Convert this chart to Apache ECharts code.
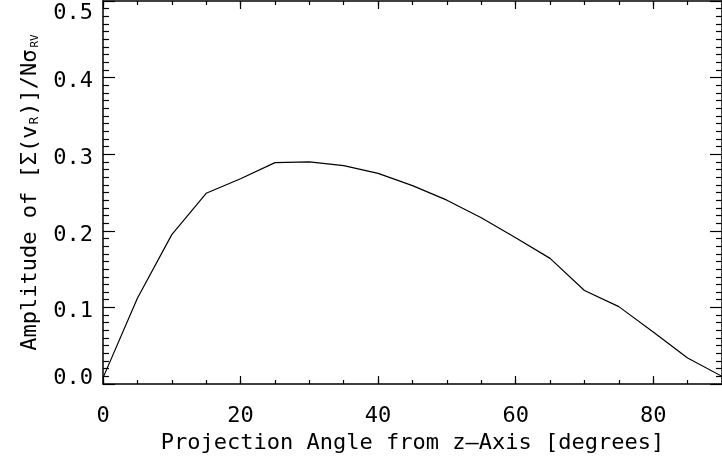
<!DOCTYPE html>
<html>
<head>
<meta charset="utf-8">
<script src="https://cdn.jsdelivr.net/npm/echarts@6/dist/echarts.min.js"></script>
<style>
  html, body { margin: 0; padding: 0; background: #fff; }
  #chart { width: 722px; height: 465px; }
</style>
</head>
<body>
<div id="chart"></div>
<script>
// Projection angle (degrees) and amplitude of the velocity residual
const angles = [0, 5, 10, 15, 20, 25, 30, 35, 40, 45, 50, 55, 60, 65, 70, 75, 80, 85, 90];
const amplitude = [0.008, 0.112, 0.195, 0.249, 0.268, 0.289, 0.290, 0.285, 0.275, 0.259,
                   0.240, 0.217, 0.191, 0.164, 0.122, 0.101, 0.068, 0.034, 0.010];
const xRange = [0, 90];
const yRange = [0, 0.5];
const xMajorStep = 20;
const xMinorStep = 5;
const yMajorStep = 0.1;

const FONT = '"DejaVu Sans Mono", "Liberation Mono", monospace';
const INK = '#000';

const chart = echarts.init(document.getElementById('chart'), null, { renderer: 'canvas' });

const lineStyle = { color: INK, width: 1.5 };

// major-tick axis (with optional labels) and a companion minor-tick axis
function xAxes(position, withLabels) {
  return [
    {
      type: 'value', position, min: xRange[0], max: xRange[1], interval: xMajorStep,
      axisLine: { show: true, onZero: false, lineStyle },
      axisTick: { show: true, inside: true, length: 8, lineStyle: { color: INK, width: 1.2 } },
      splitLine: { show: false },
      axisLabel: withLabels ? {
        show: true, margin: 21, color: INK, fontFamily: FONT, fontSize: 22,
        showMaxLabel: false
      } : { show: false },
      name: withLabels ? 'Projection Angle from z\u2013Axis [degrees]' : '',
      nameLocation: 'middle', nameGap: 48,
      nameTextStyle: { color: INK, fontFamily: FONT, fontSize: 22 }
    },
    {
      type: 'value', position, min: xRange[0], max: xRange[1], interval: xMinorStep,
      axisLine: { show: false, onZero: false },
      axisTick: { show: true, inside: true, length: 4, lineStyle: { color: INK, width: 1.2 } },
      splitLine: { show: false },
      axisLabel: { show: false }
    }
  ];
}

function yLabel(v) {
  const s = v.toFixed(1);
  if (Math.abs(v - yRange[1]) < 1e-9) return '{t|' + s + '}';
  if (Math.abs(v - yRange[0]) < 1e-9) return '{b|' + s + '}';
  return '{n|' + s + '}';
}

function yAxis(position, withLabels) {
  return {
    type: 'value', position, min: yRange[0], max: yRange[1], interval: yMajorStep,
    axisLine: { show: true, onZero: false, lineStyle },
    axisTick: { show: true, inside: true, length: 12, lineStyle: { color: INK, width: 1.2 } },
    minorTick: { show: true, splitNumber: 10, length: 6, lineStyle: { color: INK, width: 1.2 } },
    splitLine: { show: false },
    minorSplitLine: { show: false },
    axisLabel: withLabels ? {
      show: true, margin: 10, color: INK, fontFamily: FONT, fontSize: 22,
      formatter: yLabel,
      rich: {
        n: { fontFamily: FONT, fontSize: 22, color: INK, padding: [8, 0, 0, 0] },
        t: { fontFamily: FONT, fontSize: 22, color: INK, padding: [24, 0, 0, 0] },
        b: { fontFamily: FONT, fontSize: 22, color: INK, padding: [0, 0, 12, 0] }
      }
    } : { show: false },
    name: withLabels
      ? '{m|Amplitude of [\u03A3(v}{s|R}{m|)]/N\u03C3}{s2|RV}'
      : '',
    nameLocation: 'middle', nameRotate: 90, nameGap: 62,
    nameTextStyle: {
      color: INK, fontFamily: FONT, fontSize: 22,
      rich: {
        m: { fontFamily: FONT, fontSize: 22, color: INK, lineHeight: 30, verticalAlign: 'bottom' },
        s: { fontFamily: FONT, fontSize: 13, color: INK, lineHeight: 30, verticalAlign: 'bottom', padding: [0, 1, 0, 1] },
        s2: { fontFamily: FONT, fontSize: 11, color: INK, lineHeight: 30, verticalAlign: 'bottom', padding: [0, 0, 0, 2] }
      }
    }
  };
}

const axesX = xAxes('bottom', true).concat(xAxes('top', false));

chart.setOption({
  animation: false,
  backgroundColor: '#fff',
  grid: { left: 103, top: 1, width: 625, bottom: 81, containLabel: false },
  xAxis: axesX,
  yAxis: [yAxis('left', true), yAxis('right', false)],
  series: [{
    type: 'line',
    xAxisIndex: 0, yAxisIndex: 0,
    data: angles.map((a, i) => [a, amplitude[i]]),
    showSymbol: false,
    lineStyle: { color: INK, width: 1.2 },
    clip: true
  }]
});
</script>
</body>
</html>
